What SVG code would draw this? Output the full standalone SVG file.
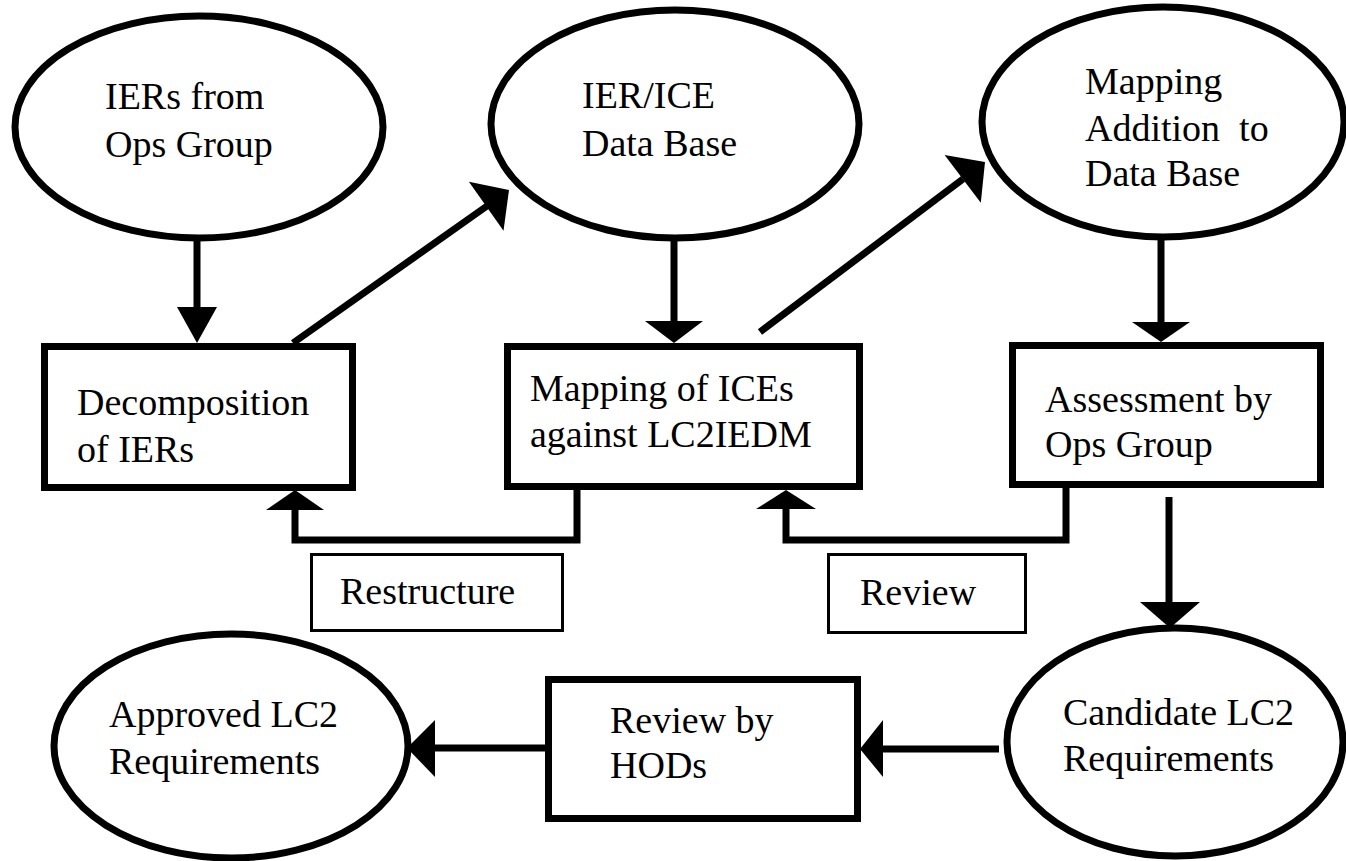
<svg xmlns="http://www.w3.org/2000/svg" width="1346" height="861" viewBox="0 0 1346 861">
  <style>
    .node { fill: #ffffff; stroke: #000000; stroke-width: 7; }
    .label-box { fill: #ffffff; stroke: #000000; stroke-width: 3; }
    .txt { font-family: "Liberation Serif", "Times New Roman", serif; font-size: 38px; fill: #000000; }
    .wire { fill: none; stroke: #000000; stroke-width: 7; stroke-linecap: butt; stroke-linejoin: miter; }
    .head { fill: #000000; stroke: none; }
  </style>
  <rect x="0" y="0" width="1346" height="861" fill="#ffffff"/>

  <!-- data stores (ellipses) -->
  <g id="iers-from-ops">
    <ellipse class="node" cx="199" cy="127" rx="184" ry="111"/>
    <text class="txt" x="105" y="109">IERs from</text>
    <text class="txt" x="105" y="157">Ops Group</text>
  </g>
  <g id="ier-ice-db">
    <ellipse class="node" cx="675" cy="124" rx="184" ry="114"/>
    <text class="txt" x="582" y="108">IER/ICE</text>
    <text class="txt" x="582" y="156">Data Base</text>
  </g>
  <g id="mapping-addition">
    <ellipse class="node" cx="1163" cy="122" rx="181" ry="115"/>
    <text class="txt" x="1085" y="94">Mapping</text>
    <text class="txt" x="1085" y="141" xml:space="preserve">Addition  to</text>
    <text class="txt" x="1085" y="186">Data Base</text>
  </g>
  <g id="candidate-lc2">
    <ellipse class="node" cx="1175" cy="742" rx="168" ry="114"/>
    <text class="txt" x="1063" y="725">Candidate LC2</text>
    <text class="txt" x="1063" y="771">Requirements</text>
  </g>
  <g id="approved-lc2">
    <ellipse class="node" cx="231" cy="746" rx="177" ry="112"/>
    <text class="txt" x="109" y="727">Approved LC2</text>
    <text class="txt" x="109" y="774">Requirements</text>
  </g>

  <!-- process steps (boxes) -->
  <g id="decomposition">
    <rect class="node" x="44.5" y="346.5" width="308" height="141"/>
    <text class="txt" x="77" y="415">Decomposition</text>
    <text class="txt" x="77" y="462">of IERs</text>
  </g>
  <g id="mapping-ices">
    <rect class="node" x="507.5" y="346.5" width="352" height="140"/>
    <text class="txt" x="530" y="401">Mapping of ICEs</text>
    <text class="txt" x="530" y="447">against LC2IEDM</text>
  </g>
  <g id="assessment">
    <rect class="node" x="1012.5" y="345.5" width="308" height="139"/>
    <text class="txt" x="1045" y="412">Assessment by</text>
    <text class="txt" x="1045" y="457">Ops Group</text>
  </g>
  <g id="review-hods">
    <rect class="node" x="548.5" y="679.5" width="309" height="139"/>
    <text class="txt" x="610" y="733">Review by</text>
    <text class="txt" x="610" y="778">HODs</text>
  </g>

  <!-- feedback labels -->
  <g id="restructure-label">
    <rect class="label-box" x="311.5" y="554.5" width="251" height="76"/>
    <text class="txt" x="340" y="604">Restructure</text>
  </g>
  <g id="review-label">
    <rect class="label-box" x="828.5" y="554.5" width="197" height="78"/>
    <text class="txt" x="860" y="605">Review</text>
  </g>

  <!-- connectors -->
  <g id="connectors">
    <!-- IERs -> Decomposition -->
    <line class="wire" x1="197" y1="237" x2="197" y2="308"/>
    <polygon class="head" points="177,307 217,307 197,343"/>

    <!-- Decomposition -> IER/ICE Data Base -->
    <line class="wire" x1="293" y1="343" x2="487" y2="206"/>
    <polygon class="head" points="468.9,181.7 509,190 503.5,230.7"/>

    <!-- IER/ICE Data Base -> Mapping of ICEs -->
    <line class="wire" x1="674" y1="238" x2="674" y2="322"/>
    <polygon class="head" points="645,321 703,321 674,343"/>

    <!-- Mapping of ICEs -> Mapping Addition -->
    <line class="wire" x1="760" y1="332" x2="963" y2="179"/>
    <polygon class="head" points="944.6,155 985,162 980.8,202.8"/>

    <!-- Mapping Addition -> Assessment -->
    <line class="wire" x1="1161" y1="237" x2="1161" y2="323"/>
    <polygon class="head" points="1132,322 1190,322 1161,342"/>

    <!-- Restructure loop: Mapping of ICEs -> Decomposition -->
    <polyline class="wire" points="577,490 577,540 295,540 295,509"/>
    <polygon class="head" points="266,510 324,510 295,490"/>

    <!-- Review loop: Assessment -> Mapping of ICEs -->
    <polyline class="wire" points="1066,488 1066,540 786,540 786,508"/>
    <polygon class="head" points="756,509 816,509 786,490"/>

    <!-- Assessment -> Candidate -->
    <line class="wire" x1="1169" y1="497" x2="1169" y2="603"/>
    <polygon class="head" points="1140,602 1200,602 1170,628"/>

    <!-- Candidate -> Review by HODs -->
    <line class="wire" x1="999" y1="749" x2="882" y2="749"/>
    <polygon class="head" points="883,720 883,777 860,749"/>

    <!-- Review by HODs -> Approved -->
    <line class="wire" x1="545" y1="748" x2="434" y2="748"/>
    <polygon class="head" points="435,720 435,777 407,748"/>
  </g>
</svg>
